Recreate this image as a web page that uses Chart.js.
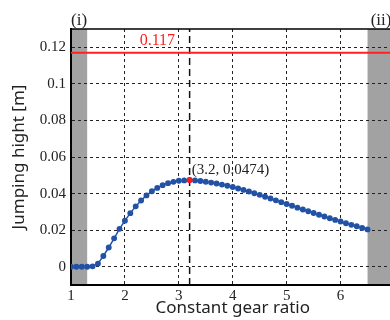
<!DOCTYPE html>
<html>
<head>
<meta charset="utf-8">
<script src="https://cdn.jsdelivr.net/npm/chart.js@4"></script>
<style>
html, body { margin: 0; padding: 0; overflow: hidden; background: #fff; }
#wrap { width: 400px; height: 320px; }
</style>
</head>
<body>
<div id="wrap"><canvas id="jumpChart" width="400" height="320"></canvas></div>
<script>
// gear ratio samples and jumping height
const gearRatio = [1.0, 1.1, 1.2, 1.3, 1.4, 1.5, 1.6, 1.7, 1.8, 1.9,
    2.0, 2.1, 2.2, 2.3, 2.4, 2.5, 2.6, 2.7, 2.8, 2.9,
    3.0, 3.1, 3.2, 3.3, 3.4, 3.5, 3.6, 3.7, 3.8, 3.9,
    4.0, 4.1, 4.2, 4.3, 4.4, 4.5, 4.6, 4.7, 4.8, 4.9,
    5.0, 5.1, 5.2, 5.3, 5.4, 5.5, 5.6, 5.7, 5.8, 5.9,
    6.0, 6.1, 6.2, 6.3, 6.4, 6.5];
const jumpHeight = [0, 0, 0, 0, 0.0002, 0.0017, 0.0059, 0.0105, 0.0155, 0.0207,
    0.0252, 0.0293, 0.0330, 0.0362, 0.0390, 0.0413, 0.0431, 0.0446, 0.0457, 0.0464,
    0.0470, 0.0472, 0.0474, 0.0472, 0.0469, 0.0465, 0.0460, 0.0455, 0.0449, 0.0443,
    0.0436, 0.0428, 0.0420, 0.0411, 0.0402, 0.0393, 0.0383, 0.0373, 0.0363, 0.0353,
    0.0343, 0.0333, 0.0323, 0.0313, 0.0303, 0.0294, 0.0284, 0.0275, 0.0265, 0.0256,
    0.0247, 0.0238, 0.0229, 0.0221, 0.0212, 0.0204];

const peakX = 3.2;
const peakY = 0.0474;
const limitHeight = 0.117;

const xTicks = [1, 2, 3, 4, 5, 6];
const xTickLabels = ['1', '2', '3', '4', '5', '6'];
const yTicks = [0, 0.02, 0.04, 0.06, 0.08, 0.1, 0.12];
const yTickLabels = ['0', '0.02', '0.04', '0.06', '0.08', '0.1', '0.12'];

const bands = [[1, 1.3], [6.5, 7]];
const bandLabels = ['(i)', '(ii)'];

const serif = '"Liberation Serif", "DejaVu Serif", serif';
const sans = '"Noto Sans", "DejaVu Sans", sans-serif';

const overlay = {
    id: 'overlay',
    beforeDraw(chart) {
        const { ctx, chartArea: a, scales: { x } } = chart;
        ctx.save();
        ctx.fillStyle = '#a2a2a2';
        bands.forEach(b => {
            const x0 = x.getPixelForValue(b[0]);
            const x1 = x.getPixelForValue(b[1]);
            ctx.fillRect(x0, a.top, x1 - x0, a.bottom - a.top);
        });
        ctx.restore();
    },
    afterDraw(chart) {
        const { ctx, chartArea: a, scales: { x, y } } = chart;
        ctx.save();
        // top frame
        ctx.strokeStyle = '#000';
        ctx.lineWidth = 1.5;
        ctx.beginPath();
        ctx.moveTo(a.left, a.top);
        ctx.lineTo(a.right, a.top);
        ctx.stroke();

        ctx.font = '17px ' + serif;
        ctx.fillStyle = '#222';
        ctx.textAlign = 'center';
        ctx.textBaseline = 'bottom';
        bands.forEach((b, i) => {
            const xc = (x.getPixelForValue(b[0]) + x.getPixelForValue(b[1])) / 2;
            ctx.fillText(bandLabels[i], xc, a.top);
        });

        ctx.font = '16px ' + serif;
        ctx.fillStyle = '#ff2020';
        ctx.textAlign = 'right';
        ctx.textBaseline = 'middle';
        ctx.fillText(String(limitHeight), x.getPixelForValue(2.93), y.getPixelForValue(0.1233));

        ctx.font = '15px ' + serif;
        ctx.fillStyle = '#222';
        ctx.textAlign = 'left';
        ctx.fillText('(' + peakX + ', ' + peakY + ')', x.getPixelForValue(3.24), y.getPixelForValue(0.053));
        ctx.restore();
    }
};

new Chart(document.getElementById('jumpChart'), {
    type: 'scatter',
    data: {
        datasets: [
            {
                label: 'peak',
                data: [{ x: peakX, y: peakY }],
                backgroundColor: '#ff1a1a',
                borderColor: '#ff1a1a',
                pointRadius: 2.6,
                order: 0
            },
            {
                label: 'height',
                data: gearRatio.map((g, i) => ({ x: g, y: jumpHeight[i] })),
                showLine: true,
                borderColor: '#2352a5',
                backgroundColor: '#2352a5',
                borderWidth: 1.5,
                pointRadius: 2.2,
                order: 1
            },
            {
                label: 'limit',
                data: [{ x: 1, y: limitHeight }, { x: 7, y: limitHeight }],
                showLine: true,
                borderColor: '#ff2020',
                borderWidth: 2,
                pointRadius: 0,
                order: 2
            },
            {
                label: 'optimum',
                data: [{ x: peakX, y: -0.01 }, { x: peakX, y: 0.13 }],
                showLine: true,
                borderColor: '#111',
                borderWidth: 1.5,
                borderDash: [7, 4],
                pointRadius: 0,
                order: 3
            }
        ]
    },
    options: {
        responsive: false,
        animation: false,
        layout: { padding: { top: 29, right: 4, left: 0, bottom: 0 } },
        plugins: {
            legend: { display: false },
            tooltip: { enabled: false }
        },
        scales: {
            x: {
                type: 'linear',
                min: 1,
                max: 7,
                afterBuildTicks: s => { s.ticks = xTicks.map(v => ({ value: v })); },
                afterFit: s => { s.height = 35; },
                grid: { color: '#222', lineWidth: 1, drawTicks: false },
                border: { display: true, color: '#000', width: 2, dash: [3, 3] },
                ticks: {
                    padding: 2,
                    color: '#222',
                    font: { family: serif, size: 15 },
                    callback: (v, i) => xTickLabels[i]
                },
                title: {
                    display: true,
                    text: 'Constant gear ratio',
                    color: '#222',
                    font: { family: sans, size: 17 },
                    padding: { top: 0, bottom: 2 }
                }
            },
            y: {
                type: 'linear',
                min: -0.01,
                max: 0.13,
                afterBuildTicks: s => { s.ticks = yTicks.map(v => ({ value: v })); },
                afterFit: s => { s.width = 71; },
                grid: { color: '#222', lineWidth: 1, drawTicks: false },
                border: { display: true, color: '#000', width: 2, dash: [3, 3] },
                ticks: {
                    padding: 5,
                    color: '#222',
                    font: { family: serif, size: 15 },
                    callback: (v, i) => yTickLabels[i]
                },
                title: {
                    display: true,
                    text: 'Jumping hight [m]',
                    color: '#222',
                    font: { family: sans, size: 17 },
                    padding: { top: 9, bottom: 0 }
                }
            }
        }
    },
    plugins: [overlay]
});
</script>
</body>
</html>
